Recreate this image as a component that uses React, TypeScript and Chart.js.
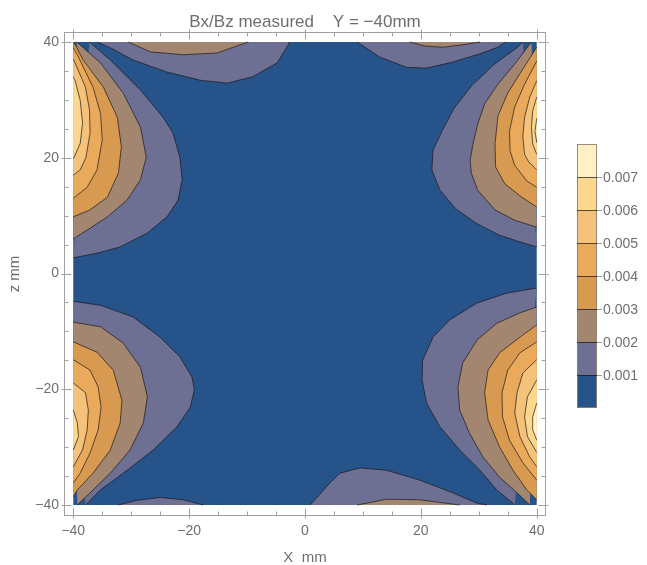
import { useEffect, useRef } from 'react';
import { Chart, registerables } from 'chart.js';
Chart.register(...registerables);

const title = 'Bx/Bz measured    Y = \u221240mm';
const xLabel = 'X  mm';
const zLabel = 'z mm';
const levels = [0.001, 0.002, 0.003, 0.004, 0.005, 0.006, 0.007];
const bandColors = ['#26548a', '#6d7092', '#a28670', '#d89a50', '#eaaa5c', '#f4c27a', '#fcd88e', '#fff1c4'];
const xTicks = [-40, -20, 0, 20, 40];
const zTicks = [-40, -20, 0, 20, 40];
const minorStep = 5;
const dataMin = -40;
const dataMax = 40;

type Contour = [number, number[][]];

const leftUpperLobe: Contour[] = [
  [0.001, [[-37.2, 40], [-33.6, 36.9], [-28.4, 31.7], [-24.5, 27.0], [-22.8, 24.3], [-21.6, 20.1], [-21.2, 16.2], [-21.9, 12.7], [-23.8, 9.8], [-27.2, 7.0], [-31.9, 4.6], [-35.9, 3.5], [-40, 2.7], [-40, 40]]],
  [0.002, [[-39.4, 40], [-35.3, 36.4], [-31.4, 31.2], [-28.4, 25.3], [-27.4, 20.1], [-28.4, 16.2], [-30.7, 12.7], [-34.1, 9.8], [-37.6, 7.5], [-40, 6.0], [-40, 40]]],
  [0.003, [[-39.9, 40], [-38.3, 36.9], [-34.8, 32.2], [-32.4, 27.0], [-31.7, 21.9], [-32.2, 17.4], [-34.1, 13.2], [-37.1, 11.0], [-40, 9.8], [-40, 40]]],
  [0.004, [[-40, 39], [-39.3, 37.8], [-36.6, 32.2], [-35.3, 27.7], [-35.0, 23.1], [-35.9, 17.9], [-37.6, 14.9], [-40, 13.0]]],
  [0.005, [[-40, 37], [-39.7, 36.4], [-37.9, 32.2], [-37.2, 28.3], [-37.1, 24.3], [-37.8, 20.1], [-38.8, 17.9], [-40, 17.0]]],
  [0.006, [[-40, 34], [-39.7, 33.4], [-38.8, 29.9], [-38.4, 26.0], [-38.8, 22.5], [-40, 19.8]]],
];

const leftLowerLobe: Contour[] = [
  [0.001, [[-40, -4.8], [-35.3, -5.5], [-29.7, -7.5], [-25.0, -11.0], [-21.6, -14.4], [-19.5, -17.9], [-19.1, -20.1], [-19.8, -23.1], [-22.1, -26.5], [-26.2, -30.5], [-30.7, -34.0], [-35.3, -37.4], [-37.9, -40], [-40, -40]]],
  [0.002, [[-40, -8.4], [-35.3, -9.2], [-31.4, -12.0], [-28.4, -16.2], [-27.2, -21.3], [-27.9, -25.8], [-30.2, -30.5], [-33.6, -34.5], [-37.1, -37.9], [-39.3, -40], [-40, -40]]],
  [0.003, [[-40, -11.8], [-35.9, -13.6], [-33.1, -16.7], [-31.6, -21.9], [-31.9, -25.8], [-33.6, -30.5], [-36.6, -34.5], [-39.3, -37.4], [-40, -38.6]]],
  [0.004, [[-40, -14.9], [-37.1, -16.7], [-35.7, -19.6], [-35.2, -23.1], [-35.7, -27.0], [-37.1, -31.0], [-38.8, -34.5], [-40, -36.2]]],
  [0.005, [[-40, -18.9], [-37.9, -20.6], [-37.4, -23.6], [-37.6, -27.0], [-38.4, -30.5], [-40, -33.4]]],
  [0.006, [[-40, -23.6], [-39.3, -25.8], [-39.1, -28.2], [-40, -30.5]]],
];

const rightUpperLobe: Contour[] = [
  [0.001, [[37.6, 40], [36.6, 39.0], [34.5, 37.5], [32.4, 35.9], [28.8, 32.5], [25.7, 28.5], [23.7, 24.7], [22.1, 21.3], [21.9, 17.9], [23.3, 14.4], [26.0, 11.2], [29.7, 8.6], [33.6, 6.6], [37.6, 5.3], [40, 4.6], [40, 40]]],
  [0.002, [[39.1, 40], [36.2, 36.2], [33.3, 32.7], [31.0, 29.3], [29.8, 25.8], [29.0, 22.4], [28.5, 19.6], [28.7, 17.4], [29.8, 14.4], [32.8, 11.0], [36.2, 9.2], [40, 8.0], [40, 40]]],
  [0.003, [[40, 39.1], [37.4, 35.0], [35.0, 31.2], [33.3, 27.2], [32.8, 22.4], [32.9, 18.4], [34.5, 15.5], [37.4, 13.2], [40, 11.5]]],
  [0.004, [[40, 36.7], [37.9, 32.7], [36.2, 28.8], [35.3, 24.6], [35.4, 21.2], [36.2, 18.7], [38.3, 16.0], [40, 14.9]]],
  [0.005, [[40, 33.3], [38.8, 30.5], [37.9, 27.0], [37.6, 23.6], [37.9, 20.6], [38.6, 19.3], [40, 17.9]]],
  [0.006, [[40, 30.5], [39.3, 28.1], [39.1, 25.3], [39.3, 22.4], [40, 20.6]]],
  [0.007, [[40, 26.8], [39.7, 24.6], [40, 22.6]]],
];

const rightLowerLobe: Contour[] = [
  [0.001, [[40, -2.5], [34.8, -3.4], [29.7, -5.1], [25.0, -8.0], [22.1, -11.0], [20.3, -15.0], [20.2, -18.4], [21.0, -22.4], [23.3, -26.5], [26.7, -30.5], [30.2, -34.0], [33.1, -37.4], [35.9, -39.7], [36.2, -40], [40, -40]]],
  [0.002, [[40, -5.8], [37.1, -6.8], [33.1, -8.6], [29.7, -11.5], [27.2, -15.5], [26.4, -19.6], [26.7, -23.6], [28.4, -27.6], [30.7, -31.7], [33.6, -35.2], [36.6, -37.9], [38.8, -40], [40, -40]]],
  [0.003, [[40, -8.9], [37.1, -11.0], [33.6, -13.7], [31.6, -16.7], [31.0, -20.6], [31.6, -25.3], [33.6, -30.0], [35.9, -34.0], [38.3, -37.4], [40, -39.1]]],
  [0.004, [[40, -11.8], [37.1, -13.7], [35.0, -16.7], [34.0, -20.6], [34.1, -24.8], [35.3, -28.8], [37.6, -32.7], [40, -35.7]]],
  [0.005, [[40, -14.9], [37.6, -17.2], [36.6, -20.6], [36.2, -24.1], [37.1, -28.2], [38.8, -31.7], [40, -33.4]]],
  [0.006, [[40, -18.4], [38.4, -21.3], [37.9, -24.8], [38.4, -28.2], [40, -30.9]]],
  [0.007, [[40, -22.4], [39.3, -24.8], [39.3, -27.0], [40, -28.8]]],
];

const topLeftLobe: Contour[] = [
  [0.001, [[-35.9, 40], [-33.6, 39.0], [-29.7, 36.9], [-23.8, 34.8], [-18.1, 33.4], [-13.4, 32.9], [-9.0, 34.0], [-4.8, 36.4], [-2.9, 39.5], [-2.7, 40]]],
  [0.002, [[-30.5, 40], [-26.7, 38.3], [-21.0, 37.8], [-15.2, 38.1], [-9.8, 40]]],
];

const topRightLobe: Contour[] = [
  [0.001, [[9.0, 40], [12.9, 37.4], [17.6, 35.6], [21.0, 35.5], [25.0, 36.4], [30.0, 37.9], [33.3, 39.1], [34.6, 40]]],
  [0.002, [[18.1, 40], [20.7, 39.3], [23.8, 39.1], [27.1, 39.5], [30.2, 40]]],
];

const bottomLeftLobe: Contour[] = [
  [0.001, [[-32.2, -40], [-29.0, -39.2], [-25.0, -38.7], [-21.0, -39.1], [-17.6, -40]]],
];

const bottomRightLobe: Contour[] = [
  [0.001, [[0.9, -40], [4.3, -36.2], [6.0, -34.5], [9.5, -33.6], [14.1, -34.0], [19.8, -35.7], [25.5, -37.9], [29.7, -39.7], [31.4, -40]]],
  [0.002, [[9.0, -40], [14.1, -39.0], [19.8, -39.1], [26.7, -40]]],
];

const allContours: Contour[] = [
  ...leftUpperLobe, ...leftLowerLobe, ...rightUpperLobe, ...rightLowerLobe,
  ...topLeftLobe, ...topRightLobe, ...bottomLeftLobe, ...bottomRightLobe,
];

const FONT = "'Liberation Sans', Arial, sans-serif";
const TEXT = '#6e6e6e';
const LINE = 'rgba(25,20,20,0.7)';
const FRAME = '#a0a0a0';

const fmt = (v: number) => (v < 0 ? '\u2212' + Math.abs(v) : String(v));

const onEdge = (a: any, b: any) =>
  (Math.abs(a.x) >= dataMax && a.x === b.x) || (Math.abs(a.y) >= dataMax && a.y === b.y);

const backgroundPlugin = {
  id: 'bg',
  beforeDatasetsDraw(chart: any) {
    const { ctx, scales } = chart;
    const x = scales.x, y = scales.y;
    const l = x.getPixelForValue(dataMin), r = x.getPixelForValue(dataMax);
    const t = y.getPixelForValue(dataMax), b = y.getPixelForValue(dataMin);
    ctx.save();
    ctx.fillStyle = bandColors[0];
    ctx.fillRect(l, t, r - l, b - t);
    ctx.restore();
  },
};

const framePlugin = {
  id: 'frame',
  afterDatasetsDraw(chart: any) {
    const { ctx, chartArea: a, scales } = chart;
    const x = scales.x, y = scales.y;
    ctx.save();
    ctx.strokeStyle = FRAME;
    ctx.lineWidth = 1;
    const L = Math.round(a.left) + 0.5, R = Math.round(a.right) - 0.5;
    const T = Math.round(a.top) + 0.5, B = Math.round(a.bottom) - 0.5;
    ctx.strokeRect(L, T, R - L, B - T);
    const seg = (x1: number, y1: number, x2: number, y2: number) => {
      ctx.beginPath(); ctx.moveTo(x1, y1); ctx.lineTo(x2, y2); ctx.stroke();
    };
    for (let v = dataMin; v <= dataMax; v += minorStep) {
      const major = xTicks.includes(v);
      const len = major ? 7 : 4;
      const out = major ? 3 : 0;
      const px = Math.round(x.getPixelForValue(v)) + 0.5;
      seg(px, B + out, px, B - len);
      seg(px, T - out, px, T + len);
      const py = Math.round(y.getPixelForValue(v)) + 0.5;
      const majorZ = zTicks.includes(v);
      const lenZ = majorZ ? 7 : 4;
      const outZ = majorZ ? 3 : 0;
      seg(L - outZ, py, L + lenZ, py);
      seg(R + outZ, py, R - lenZ, py);
    }
    ctx.restore();
  },
};

const textPlugin = {
  id: 'texts',
  afterDraw(chart: any) {
    const { ctx, scales } = chart;
    const x = scales.x;
    ctx.save();
    ctx.fillStyle = TEXT;
    ctx.textAlign = 'center';
    ctx.textBaseline = 'alphabetic';
    ctx.font = `17px ${FONT}`;
    ctx.fillText(title, x.getPixelForValue(0), 26.5);
    ctx.font = `15px ${FONT}`;
    ctx.fillText(xLabel, x.getPixelForValue(0), 562);
    ctx.save();
    ctx.translate(18.5, 274);
    ctx.rotate(-Math.PI / 2);
    ctx.fillText(zLabel, 0, 0);
    ctx.restore();

    // colour bar legend
    const bx = 577, bw = 20, top = 144, bandH = 33;
    const n = bandColors.length;
    for (let i = 0; i < n; i++) {
      const yTop = top + (n - 1 - i) * bandH;
      ctx.fillStyle = bandColors[i];
      ctx.fillRect(bx, yTop, bw, bandH);
    }
    ctx.strokeStyle = 'rgba(140,130,115,0.9)';
    ctx.lineWidth = 1;
    ctx.strokeRect(bx + 0.5, top + 0.5, bw - 1, n * bandH - 1);
    ctx.font = `14px ${FONT}`;
    ctx.textAlign = 'left';
    ctx.textBaseline = 'middle';
    levels.forEach((lv, i) => {
      const yy = Math.round(top + (n - 1 - i) * bandH) + 0.5;
      ctx.strokeStyle = LINE;
      ctx.beginPath(); ctx.moveTo(bx, yy); ctx.lineTo(bx + bw, yy); ctx.stroke();
      ctx.strokeStyle = '#9a9a9a';
      ctx.beginPath(); ctx.moveTo(bx + bw, yy); ctx.lineTo(bx + bw + 5, yy); ctx.stroke();
      ctx.fillStyle = TEXT;
      ctx.fillText(lv.toFixed(3), bx + bw + 6, yy + 1);
    });
    ctx.restore();
  },
};

export default function App() {
  const ref = useRef<HTMLCanvasElement>(null);
  useEffect(() => {
    const datasets = allContours.map(([lv, pts]) => {
      const idx = levels.indexOf(lv);
      return {
        data: pts.map(([px, pz]) => ({ x: px, y: pz })),
        showLine: true,
        fill: 'shape',
        backgroundColor: bandColors[idx + 1],
        borderColor: LINE,
        borderWidth: 1,
        borderJoinStyle: 'round',
        pointRadius: 0,
        tension: 0.000001,
        order: 20 - idx,
        segment: {
          borderColor: (c: any) => (onEdge(c.p0.parsed, c.p1.parsed) ? 'rgba(0,0,0,0)' : undefined),
        },
      };
    });
    const chart = new Chart(ref.current!, {
      type: 'scatter',
      data: { datasets: datasets as any },
      options: {
        responsive: false,
        animation: false,
        devicePixelRatio: 1,
        layout: { padding: { top: 32, right: 101, left: 0, bottom: 0 } },
        plugins: { legend: { display: false }, tooltip: { enabled: false }, title: { display: false } },
        scales: {
          x: {
            type: 'linear',
            min: -41.6,
            max: 41.6,
            grid: { display: false, drawTicks: false },
            border: { display: false },
            afterBuildTicks: (s: any) => { s.ticks = xTicks.map((v) => ({ value: v })); },
            afterFit: (s: any) => { s.height = 49; },
            ticks: { color: TEXT, font: { family: FONT, size: 14 }, padding: 7, maxRotation: 0, callback: (v: any) => fmt(Number(v)) },
          },
          y: {
            type: 'linear',
            min: -41.9,
            max: 41.73,
            grid: { display: false, drawTicks: false },
            border: { display: false },
            afterBuildTicks: (s: any) => { s.ticks = zTicks.map((v) => ({ value: v })); },
            afterFit: (s: any) => { s.width = 64; },
            ticks: { color: TEXT, font: { family: FONT, size: 14 }, padding: 5, callback: (v: any) => fmt(Number(v)) },
          },
        },
      } as any,
      plugins: [backgroundPlugin, framePlugin, textPlugin],
    });
    return () => chart.destroy();
  }, []);
  return (
    <div style={{ position: 'fixed', left: 0, top: 0, width: 647, height: 565, background: '#fff' }}>
      <canvas ref={ref} width={647} height={565} style={{ display: 'block', width: 647, height: 565 }} />
    </div>
  );
}
